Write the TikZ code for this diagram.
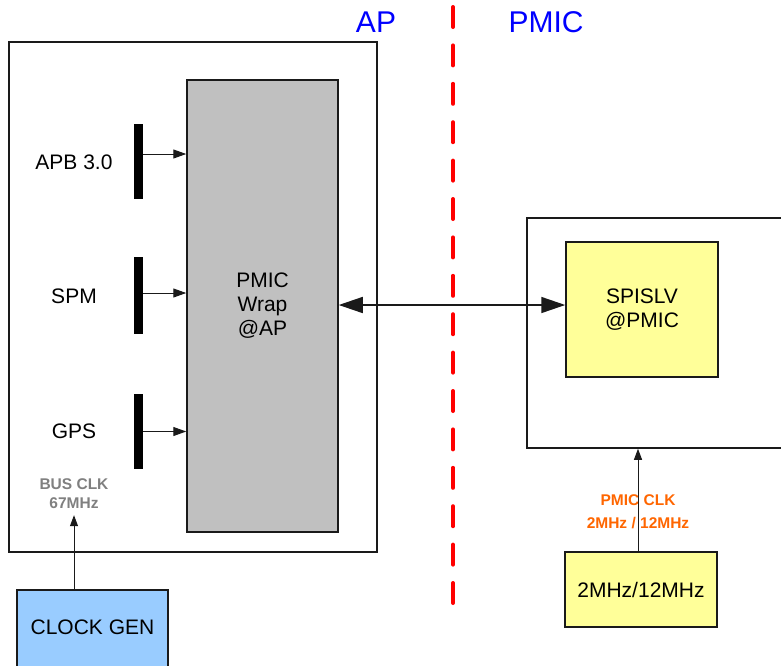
\documentclass[tikz,border=0pt]{standalone}
\usepackage{fontspec}
\setmainfont{Liberation Sans}
\usetikzlibrary{arrows.meta}
\definecolor{wrapgrey}{HTML}{C0C0C0}
\definecolor{slvyellow}{HTML}{FFFF99}
\definecolor{genblue}{HTML}{99CCFF}
\definecolor{clkorange}{HTML}{FF6600}
\definecolor{clkgrey}{HTML}{808080}
\definecolor{edge}{HTML}{1A1A1A}
\tikzset{
  blk/.style={draw=edge, line width=1.5pt, rectangle, inner sep=0pt, align=center,
    font=\fontsize{21}{24}\selectfont},
  busbar/.style={fill=black, draw=none, rectangle, inner sep=0pt, minimum width=9pt},
  lbl/.style={inner sep=0pt, font=\fontsize{21}{24}\selectfont},
  side/.style={inner sep=0pt, text=blue, font=\fontsize{30}{34}\selectfont},
  clklbl/.style={inner sep=0pt, align=center, font=\fontsize{15.5}{19}\selectfont\bfseries},
  smallarrow/.style={draw=edge, line width=1pt, -{Triangle[length=13pt,width=9pt]}},
  clkarrow/.style={draw=edge, line width=1pt, -{Triangle[length=11pt,width=8pt]}},
  bigarrow/.style={draw=edge, line width=1.5pt, {Triangle[length=24pt,width=16pt]}-{Triangle[length=24pt,width=16pt]}},
  divider/.style={draw=red, line width=4pt, line cap=round, dash pattern=on 20pt off 18.4pt}
}
\begin{document}
\begin{tikzpicture}[x=1pt,y=-1pt]
\clip (0,0) rectangle (781,665);
\fill[white] (0,0) rectangle (781,665);

% AP side
\node[blk, minimum width=368pt, minimum height=510pt] (apbox) at (193,297) {};
\node[blk, fill=wrapgrey, minimum width=151pt, minimum height=452pt] (wrap) at (262.5,306) {PMIC\\Wrap\\@AP};

\node[busbar, minimum height=75pt] (apbbar) at (138.5,161.5) {};
\node[busbar, minimum height=77pt] (spmbar) at (138.5,295.5) {};
\node[busbar, minimum height=75pt] (gpsbar) at (138.5,431.5) {};

\node[lbl] (apb) at (74,162) {APB 3.0};
\node[lbl] (spm) at (74,296) {SPM};
\node[lbl] (gps) at (74,431) {GPS};

\draw[smallarrow] ([yshift=7.5pt]apbbar.east) -- ([yshift=7.5pt]apbbar.east -| wrap.west);
\draw[smallarrow] ([yshift=2.5pt]spmbar.east) -- ([yshift=2.5pt]spmbar.east -| wrap.west);
\draw[smallarrow] (gpsbar.east) -- (gpsbar.east -| wrap.west);

\node[clklbl, text=clkgrey] (busclk) at (74,494) {BUS CLK\\67MHz};
\node[blk, fill=genblue, minimum width=151pt, minimum height=100pt] (clkgen) at (92.5,640) {};
\node[lbl] (clkgentext) at (92.5,627) {CLOCK GEN};
\draw[clkarrow] (clkgen.north -| busclk.south) -- ([yshift=-6pt]busclk.south);

% divider and titles
\node[side] (aplabel) at (376,22) {AP};
\node[side] (pmiclabel) at (546,22) {PMIC};
\coordinate (divtop) at (453,7);
\coordinate (divbot) at (453,621);
\draw[divider] (divtop) -- (divbot);

% PMIC side
\node[blk, minimum width=273pt, minimum height=230pt] (pmicbox) at (663.5,333) {};
\node[blk, fill=slvyellow, minimum width=152pt, minimum height=135pt] (spislv) at (642,309.5) {SPISLV\\@PMIC};
\draw[bigarrow] ([yshift=1pt]wrap.east) -- ([yshift=1pt]wrap.east -| spislv.west);

\node[blk, fill=slvyellow, minimum width=152pt, minimum height=75pt] (osc) at (641,589.5) {2MHz/12MHz};
\node[clklbl, text=clkorange, font=\fontsize{15.5}{23}\selectfont\bfseries] (pmicclk) at (638,511.5) {PMIC CLK\\2MHz / 12MHz};
\draw[clkarrow] ([xshift=-3pt]osc.north) -- ([xshift=-3pt]osc.north |- pmicbox.south);
\end{tikzpicture}
\end{document}
